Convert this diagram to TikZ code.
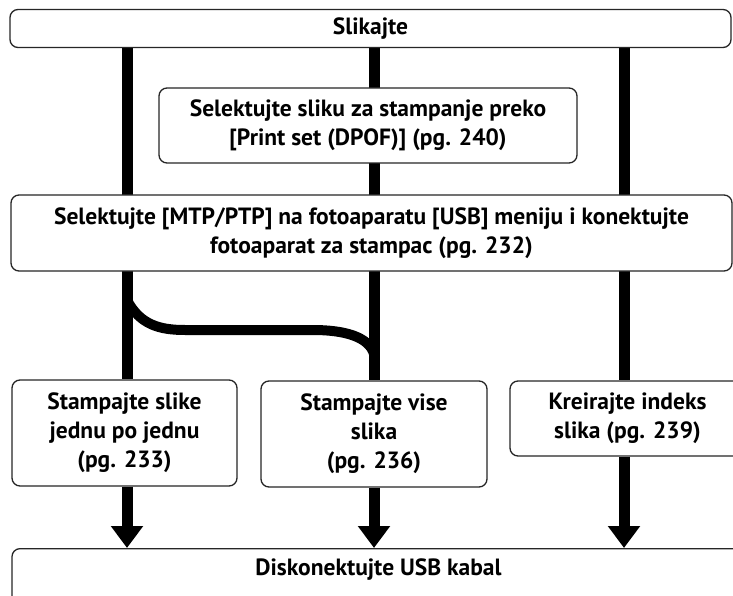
\documentclass[tikz,border=0pt]{standalone}
\usepackage{fontspec}
\setmainfont{PT Sans}
\usetikzlibrary{arrows.meta,calc}
\pgfdeclarelayer{background}
\pgfsetlayers{background,main}
\begin{document}
\begin{tikzpicture}[x=1pt,y=-1pt,
  box/.style={draw=black!85, line width=1.3pt, rounded corners=8pt, fill=white,
    align=center, inner sep=0pt, font=\fontsize{23.5}{29}\selectfont\bfseries},
  flow/.style={line width=11pt, black},
  arr/.style={line width=11pt, black, -{Triangle[length=22pt,width=31pt]}},
  curveline/.style={line width=10pt, black}]
\useasboundingbox (0,0) rectangle (733,596);
\clip (0,0) rectangle (733,596);
\coordinate (L) at (127,0);
\coordinate (M) at (374,0);
\coordinate (R) at (624,0);
\path
  node[box, minimum width=721, minimum height=38] (top) at (370.5,28.5) {Slikajte}
  node[box, minimum width=418, minimum height=75] (sel) at (368,125.5)
    {Selektujte sliku za stampanje preko\\ {[}Print set (DPOF){]} (pg. 240)}
  node[box, minimum width=721, minimum height=76] (usb) at (371.5,233)
    {Selektujte {[}MTP/PTP{]} na fotoaparatu {[}USB{]} meniju i konektujte\\ fotoaparat za stampac (pg. 232)}
  node[box, minimum width=225, minimum height=106] (a) at (124.5,433)
    {Stampajte slike\\ jednu po jednu\\ (pg. 233)}
  node[box, minimum width=226, minimum height=106] (b) at (374,434)
    {Stampajte vise\\ slika\\ (pg. 236)}
  node[box, minimum width=235, minimum height=75] (c) at (627.5,418.5)
    {Kreirajte indeks\\ slika (pg. 239)}
  node[box, anchor=north, minimum width=733, inner ysep=11pt, text height=16pt, text depth=40pt] (bot) at (378.5,548)
    {Diskonektujte USB kabal};
\coordinate (c1) at (127,300);
\coordinate (c2) at (374,354);
\begin{pgfonlayer}{background}
  \draw[flow] (top.south -| L) -- (a.north -| L);
  \draw[flow] (top.south -| M) -- (b.north -| M);
  \draw[flow] (top.south -| R) -- (c.north -| R);
  \draw[curveline] (c1) .. controls (140,325) and (160,330) .. (185,330)
     -- (313,330) .. controls (345,330) and (369,337) .. (c2);
\end{pgfonlayer}
\draw[arr] (a.south -| L) -- (bot.north -| L);
\draw[arr] (b.south -| M) -- (bot.north -| M);
\draw[arr] (c.south -| R) -- (bot.north -| R);
\end{tikzpicture}
\end{document}
